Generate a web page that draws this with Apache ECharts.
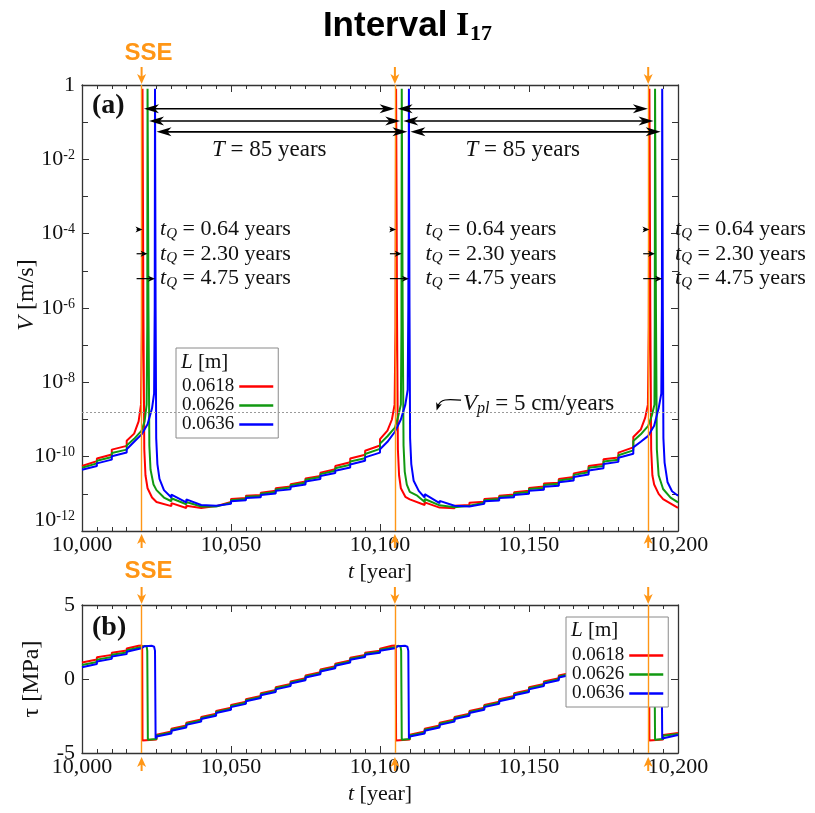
<!DOCTYPE html>
<html lang="en">
<head>
<meta charset="UTF-8">
<title>Interval I17</title>
<script src="https://cdn.jsdelivr.net/npm/echarts@6/dist/echarts.min.js"></script>
<style>
  html, body { margin: 0; background: #fff; }
  #main { width: 815px; height: 813px; }
</style>
</head>
<body>
<div id="main"></div>
<script>
// ---- data ----
var seriesNames = ['0.0618', '0.0626', '0.0636'];
var lineColors = ['#ff0000', '#119911', '#0000ff'];
var sseTimes = [10020, 10105, 10190];
var peakRed = [10020.3, 10105.4, 10190.4];
var peakGreen = [10022.0, 10107.3, 10192.3];
var peakBlue = [10024.5, 10109.7, 10194.7];
var tqLabels = ['0.64', '2.30', '4.75'];
var periodLabel = '85';
var vplLog = -8.8;                       // 5 cm/yr in m/s, log10

// panel (a): log10 of V [m/s] against t [year]
var logVRed = [
  [10000,-10.25],[10005,-10.12],[10005,-10.05],[10010,-9.94],[10010,-9.81],[10015,-9.71],[10015,-9.57],
  [10017.5,-9.38],[10019,-9.05],[10019.8,-8.6],[10020.1,-6.5],[10020.3,-0.1],
  [10020.6,-6],[10020.9,-9.8],[10021.3,-10.5],[10022,-10.85],[10023.5,-11.1],
  [10025,-11.22],[10025,-11.18],[10030,-11.33],[10030,-11.25],[10035,-11.38],[10035,-11.32],
  [10040,-11.38],[10040,-11.33],[10045,-11.33],[10045,-11.28],[10050,-11.22],[10050,-11.14],
  [10055,-11.11],[10055,-11.05],[10060,-11.03],[10060,-10.97],[10065,-10.92],[10065,-10.85],
  [10070,-10.80],[10070,-10.74],[10075,-10.67],[10075,-10.59],[10080,-10.52],[10080,-10.43],
  [10085,-10.34],[10085,-10.25],[10090,-10.15],[10090,-10.05],[10095,-9.95],[10095,-9.84],
  [10100,-9.70],[10100,-9.53],[10102.5,-9.3],[10104,-9.0],[10104.9,-8.6],[10105.2,-6.5],[10105.4,-0.1],
  [10105.7,-6],[10106,-9.8],[10106.4,-10.5],[10107,-10.85],[10108.5,-11.08],
  [10110,-11.15],[10110,-11.10],[10115,-11.30],[10115,-11.23],[10120,-11.37],[10120,-11.32],
  [10125,-11.39],[10125,-11.32],[10130,-11.30],[10130,-11.24],[10135,-11.21],[10135,-11.14],
  [10140,-11.11],[10140,-11.05],[10145,-11.02],[10145,-10.96],[10150,-10.92],[10150,-10.84],
  [10155,-10.80],[10155,-10.72],[10160,-10.70],[10160,-10.60],[10165,-10.55],[10165,-10.45],
  [10170,-10.37],[10170,-10.25],[10175,-10.20],[10175,-10.07],[10180,-10.02],[10180,-9.89],
  [10185,-9.75],[10185,-9.47],[10187.5,-9.27],[10189,-8.95],[10189.9,-8.6],[10190.2,-6.5],[10190.4,-0.1],
  [10190.7,-6],[10191,-9.8],[10191.4,-10.5],[10192,-10.75],[10193.5,-11.0],
  [10195,-11.14],[10195,-11.10],[10200,-11.38]
];
var logVGreen = [
  [10000,-10.30],[10005,-10.18],[10005,-10.11],[10010,-10.01],[10010,-9.90],[10015,-9.81],[10015,-9.70],
  [10017.5,-9.52],[10020,-9.30],[10021,-9.05],[10021.7,-8.6],[10021.9,-6.5],[10022.0,-0.1],
  [10022.3,-6],[10022.6,-9.7],[10023,-10.35],[10024,-10.75],[10025,-10.9],[10027.5,-11.1],
  [10030,-11.2],[10030,-11.12],[10035,-11.28],[10035,-11.22],[10040,-11.34],[10040,-11.30],
  [10045,-11.34],[10045,-11.30],[10050,-11.24],[10050,-11.17],[10055,-11.14],[10055,-11.08],
  [10060,-11.06],[10060,-11.00],[10065,-10.95],[10065,-10.88],[10070,-10.83],[10070,-10.77],
  [10075,-10.70],[10075,-10.62],[10080,-10.55],[10080,-10.47],[10085,-10.38],[10085,-10.31],
  [10090,-10.22],[10090,-10.13],[10095,-10.04],[10095,-9.93],[10100,-9.79],[10100,-9.65],
  [10102.5,-9.45],[10105,-9.22],[10106,-8.95],[10107,-8.6],[10107.2,-6.5],[10107.3,-0.1],
  [10107.6,-6],[10107.9,-9.7],[10108.3,-10.4],[10109,-10.75],[10110,-10.95],[10110,-10.90],
  [10112.5,-11.05],[10115,-11.22],[10115,-11.14],[10120,-11.31],[10120,-11.26],
  [10125,-11.36],[10125,-11.31],[10130,-11.32],[10130,-11.27],[10135,-11.24],[10135,-11.17],
  [10140,-11.14],[10140,-11.08],[10145,-11.05],[10145,-10.99],[10150,-10.95],[10150,-10.87],
  [10155,-10.84],[10155,-10.76],[10160,-10.73],[10160,-10.64],[10165,-10.59],[10165,-10.49],
  [10170,-10.42],[10170,-10.30],[10175,-10.25],[10175,-10.13],[10180,-10.08],[10180,-9.96],
  [10185,-9.83],[10185,-9.58],[10187.5,-9.4],[10190,-9.17],[10191.2,-8.9],[10192.1,-8.6],[10192.2,-6.5],[10192.3,-0.1],
  [10192.6,-6],[10192.9,-9.8],[10193.5,-10.5],[10195,-10.87],[10197.5,-11.1],[10200,-11.23]
];
var logVBlue = [
  [10000,-10.35],[10005,-10.25],[10005,-10.18],[10010,-10.08],[10010,-9.99],[10015,-9.89],[10015,-9.80],
  [10017.5,-9.6],[10020,-9.40],[10022,-9.13],[10023.5,-8.7],[10024.2,-8.3],[10024.4,-6],[10024.5,-0.1],
  [10024.7,-6],[10024.9,-9.5],[10025.3,-10.2],[10026,-10.6],[10027.5,-10.9],
  [10030,-11.1],[10030,-11.02],[10035,-11.23],[10035,-11.15],[10040,-11.30],[10040,-11.25],
  [10045,-11.32],[10045,-11.28],[10050,-11.27],[10050,-11.20],[10055,-11.17],[10055,-11.11],
  [10060,-11.09],[10060,-11.03],[10065,-10.99],[10065,-10.92],[10070,-10.88],[10070,-10.81],
  [10075,-10.75],[10075,-10.67],[10080,-10.60],[10080,-10.52],[10085,-10.44],[10085,-10.38],
  [10090,-10.29],[10090,-10.21],[10095,-10.11],[10095,-10.02],[10100,-9.89],[10100,-9.80],
  [10102.5,-9.6],[10105,-9.33],[10107,-9.0],[10108.5,-8.6],[10109.3,-8.2],[10109.5,-6],[10109.7,-0.1],
  [10109.9,-6],[10110.1,-9.5],[10110.5,-10.2],[10111.3,-10.65],[10113,-10.92],
  [10115,-11.10],[10115,-11.01],[10120,-11.25],[10120,-11.19],[10125,-11.32],[10125,-11.28],
  [10130,-11.34],[10130,-11.29],[10135,-11.27],[10135,-11.20],[10140,-11.18],[10140,-11.11],
  [10145,-11.09],[10145,-11.03],[10150,-11.00],[10150,-10.92],[10155,-10.89],[10155,-10.81],
  [10160,-10.78],[10160,-10.69],[10165,-10.64],[10165,-10.55],[10170,-10.48],[10170,-10.37],
  [10175,-10.31],[10175,-10.20],[10180,-10.14],[10180,-10.03],[10185,-9.92],[10185,-9.75],
  [10187.5,-9.6],[10190,-9.44],[10192,-9.17],[10193.5,-8.7],[10194.4,-8.3],[10194.6,-6],[10194.7,-0.1],
  [10194.9,-6],[10195.1,-9.5],[10195.5,-10.16],[10196.5,-10.69],[10198,-10.93],[10200,-11.05]
];

// panel (b): shear stress tau [MPa]
var tauRed = [
  [10000,1.12],[10005,1.32],[10005,1.47],[10010,1.63],[10010,1.78],[10015,1.92],[10015,2.06],
  [10019,2.24],[10020.1,2.27],[10020.2,2.0],[10020.3,-4.15],[10025,-4.08],[10025,-3.76],
  [10030,-3.54],[10030,-3.36],[10035,-3.14],[10035,-2.96],[10040,-2.74],[10040,-2.56],
  [10045,-2.34],[10045,-2.16],[10050,-1.94],[10050,-1.76],[10055,-1.54],[10055,-1.36],
  [10060,-1.14],[10060,-0.96],[10065,-0.74],[10065,-0.56],[10070,-0.34],[10070,-0.16],
  [10075,0.06],[10075,0.24],[10080,0.46],[10080,0.64],[10085,0.86],[10085,1.04],
  [10090,1.26],[10090,1.44],[10095,1.62],[10095,1.78],[10100,1.91],[10100,2.05],
  [10104,2.24],[10105.2,2.27],[10105.3,2.0],[10105.4,-4.15],[10110,-4.08],[10110,-3.76],
  [10115,-3.54],[10115,-3.36],[10120,-3.14],[10120,-2.96],[10125,-2.74],[10125,-2.56],
  [10130,-2.34],[10130,-2.16],[10135,-1.94],[10135,-1.76],[10140,-1.54],[10140,-1.36],
  [10145,-1.14],[10145,-0.96],[10150,-0.74],[10150,-0.56],[10155,-0.34],[10155,-0.16],
  [10160,0.06],[10160,0.24],[10165,0.46],[10165,0.64],[10170,0.86],[10170,1.04],
  [10175,1.26],[10175,1.44],[10180,1.62],[10180,1.78],[10185,1.91],[10185,2.05],
  [10189,2.24],[10190.2,2.27],[10190.3,2.0],[10190.4,-4.15],[10195,-4.08],[10195,-3.78],[10200,-3.64]
];
var tauGreen = [
  [10000,0.95],[10005,1.15],[10005,1.31],[10010,1.48],[10010,1.64],[10015,1.79],[10015,1.95],
  [10020,2.16],[10021,2.24],[10021.7,2.2],[10021.9,1.9],[10022.1,-4.10],[10025,-4.05],[10025,-3.82],
  [10030,-3.61],[10030,-3.43],[10035,-3.21],[10035,-3.03],[10040,-2.81],[10040,-2.63],
  [10045,-2.41],[10045,-2.23],[10050,-2.01],[10050,-1.83],[10055,-1.61],[10055,-1.43],
  [10060,-1.21],[10060,-1.03],[10065,-0.81],[10065,-0.63],[10070,-0.41],[10070,-0.23],
  [10075,-0.01],[10075,0.17],[10080,0.39],[10080,0.57],[10085,0.79],[10085,0.97],
  [10090,1.19],[10090,1.37],[10095,1.55],[10095,1.71],[10100,1.84],[10100,1.98],
  [10105,2.15],[10106,2.24],[10106.9,2.2],[10107.1,1.9],[10107.3,-4.10],[10110,-4.05],[10110,-3.82],
  [10115,-3.61],[10115,-3.43],[10120,-3.21],[10120,-3.03],[10125,-2.81],[10125,-2.63],
  [10130,-2.41],[10130,-2.23],[10135,-2.01],[10135,-1.83],[10140,-1.61],[10140,-1.43],
  [10145,-1.21],[10145,-1.03],[10150,-0.81],[10150,-0.63],[10155,-0.41],[10155,-0.23],
  [10160,-0.01],[10160,0.17],[10165,0.39],[10165,0.57],[10170,0.79],[10170,0.97],
  [10175,1.19],[10175,1.37],[10180,1.55],[10180,1.71],[10185,1.84],[10185,1.98],
  [10190,2.15],[10191,2.24],[10191.9,2.2],[10192.1,1.9],[10192.3,-4.10],[10195,-4.05],[10195,-3.84],[10200,-3.72]
];
var tauBlue = [
  [10000,0.80],[10005,1.02],[10005,1.18],[10010,1.36],[10010,1.52],[10015,1.68],[10015,1.84],
  [10020,2.08],[10021,2.22],[10023.5,2.24],[10024.2,2.18],[10024.5,1.9],[10024.7,-4.02],[10025,-4.00],[10025,-3.88],
  [10030,-3.68],[10030,-3.50],[10035,-3.28],[10035,-3.10],[10040,-2.88],[10040,-2.70],
  [10045,-2.48],[10045,-2.30],[10050,-2.08],[10050,-1.90],[10055,-1.68],[10055,-1.50],
  [10060,-1.28],[10060,-1.10],[10065,-0.88],[10065,-0.70],[10070,-0.48],[10070,-0.30],
  [10075,-0.08],[10075,0.10],[10080,0.32],[10080,0.50],[10085,0.72],[10085,0.90],
  [10090,1.12],[10090,1.30],[10095,1.48],[10095,1.64],[10100,1.77],[10100,1.91],
  [10105,2.08],[10106,2.22],[10108.5,2.24],[10109.2,2.18],[10109.5,1.9],[10109.7,-4.02],[10110,-4.00],[10110,-3.88],
  [10115,-3.68],[10115,-3.50],[10120,-3.28],[10120,-3.10],[10125,-2.88],[10125,-2.70],
  [10130,-2.48],[10130,-2.30],[10135,-2.08],[10135,-1.90],[10140,-1.68],[10140,-1.50],
  [10145,-1.28],[10145,-1.10],[10150,-0.88],[10150,-0.70],[10155,-0.48],[10155,-0.30],
  [10160,-0.08],[10160,0.10],[10165,0.32],[10165,0.50],[10170,0.72],[10170,0.90],
  [10175,1.12],[10175,1.30],[10180,1.48],[10180,1.64],[10185,1.77],[10185,1.91],
  [10190,2.08],[10191,2.22],[10193.5,2.24],[10194.2,2.18],[10194.5,1.9],[10194.7,-4.02],[10195,-4.00],[10195,-3.90],[10200,-3.78]
];

// ---- styling ----
var SERIF = '"Liberation Serif", "DejaVu Serif", serif';
var SANS = '"Liberation Sans", Arial, sans-serif';
var ORANGE = '#ff9616';
var AXIS = '#333';

var chart = echarts.init(document.getElementById('main'), null, { renderer: 'canvas' });

function xAxisCfg(grid, pos, showLabel) {
  return {
    type: 'value', gridIndex: grid, position: pos,
    min: 10000, max: 10200, interval: 50,
    axisLine: { show: true, onZero: false, lineStyle: { color: AXIS, width: 1.3 } },
    axisTick: { show: true, inside: true, length: 7, lineStyle: { color: AXIS } },
    minorTick: { show: true, splitNumber: 10, length: 4, lineStyle: { color: AXIS } },
    splitLine: { show: false },
    axisLabel: {
      show: showLabel, margin: 3, color: '#111', fontFamily: SERIF, fontSize: 22,
      formatter: function (v) { return String(v).replace(/(\d)(\d{3})$/, '$1,$2'); }
    },
    name: showLabel ? '{i|t} [year]' : '',
    nameLocation: 'middle', nameGap: 30, nameMoveOverlap: false,
    nameTextStyle: { color: '#111', fontFamily: SERIF, fontSize: 22,
      rich: { i: { fontStyle: 'italic', fontFamily: SERIF, fontSize: 22 } } }
  };
}

function lineSeries(name, data, color, xi, yi, extra) {
  var s = {
    name: name, type: 'line', data: data, xAxisIndex: xi, yAxisIndex: yi,
    showSymbol: false, symbol: 'none', animation: false, clip: true,
    lineStyle: { color: color, width: 2 }, itemStyle: { color: color }
  };
  if (extra) { for (var k in extra) s[k] = extra[k]; }
  return s;
}

var orangeLines = sseTimes.map(function (t) {
  return { xAxis: t, lineStyle: { color: ORANGE, width: 1.4, type: 'solid' } };
});

function legendCfg(left, top) {
  return {
    left: left, top: top, orient: 'vertical', align: 'right',
    icon: 'rect', itemWidth: 34, itemHeight: 2.5, itemGap: 0,
    padding: [29, 5, 4, 6],
    backgroundColor: '#fff', borderColor: '#8a8a8a', borderWidth: 1,
    textStyle: { fontFamily: SERIF, fontSize: 19, color: '#111', lineHeight: 17.5 },
    data: seriesNames
  };
}

var option = {
  backgroundColor: '#fff',
  animation: false,
  title: {
    text: '{a|Interval}{b| I}{c|17}',
    left: 'center', top: 2,
    textStyle: {
      rich: {
        a: { fontFamily: SANS, fontWeight: 'bold', fontSize: 35, color: '#000' },
        b: { fontFamily: SERIF, fontWeight: 'bold', fontSize: 34, color: '#000' },
        c: { fontFamily: SERIF, fontWeight: 'bold', fontSize: 22, color: '#000', padding: [16, 0, 0, 1] }
      }
    }
  },
  legend: [legendCfg(176, 348), legendCfg(566, 617)],
  grid: [
    { left: 82, top: 85, width: 596, height: 446, outerBoundsMode: 'none', containLabel: false },
    { left: 82, top: 605, width: 596, height: 148, outerBoundsMode: 'none', containLabel: false }
  ],
  xAxis: [
    xAxisCfg(0, 'bottom', true), xAxisCfg(0, 'top', false),
    xAxisCfg(1, 'bottom', true), xAxisCfg(1, 'top', false)
  ],
  yAxis: [
    {
      type: 'value', gridIndex: 0, position: 'left', min: -12, max: 0, interval: 2,
      axisLine: { show: true, lineStyle: { color: AXIS, width: 1.3 } },
      axisTick: { show: true, inside: true, length: 7, lineStyle: { color: AXIS } },
      minorTick: { show: true, splitNumber: 2, length: 6, lineStyle: { color: AXIS } },
      splitLine: { show: false },
      axisLabel: {
        margin: 7, color: '#111', verticalAlignMinLabel: 'bottom',
        formatter: function (v) { return v === 0 ? '{n|1}' : '{n|10}{s|' + v + '}'; },
        rich: {
          n: { fontFamily: SERIF, fontSize: 22, color: '#111' },
          s: { fontFamily: SERIF, fontSize: 14, color: '#111', padding: [0, 0, 8, 0] }
        }
      },
      name: '{i|V} [m/s]', nameLocation: 'middle', nameRotate: 90, nameGap: 43, nameMoveOverlap: false,
      nameTextStyle: { color: '#111', fontFamily: SERIF, fontSize: 24, padding: [0, 0, 0, 26],
        rich: { i: { fontStyle: 'italic', fontFamily: SERIF, fontSize: 24 } } }
    },
    {
      type: 'value', gridIndex: 0, position: 'right', min: -12, max: 0, interval: 2,
      axisLine: { show: true, lineStyle: { color: AXIS, width: 1.3 } },
      axisTick: { show: true, inside: true, length: 7, lineStyle: { color: AXIS } },
      minorTick: { show: true, splitNumber: 2, length: 6, lineStyle: { color: AXIS } },
      splitLine: { show: false }, axisLabel: { show: false }
    },
    {
      type: 'value', gridIndex: 1, position: 'left', min: -5, max: 5, interval: 5,
      axisLine: { show: true, onZero: false, lineStyle: { color: AXIS, width: 1.3 } },
      axisTick: { show: true, inside: true, length: 7, lineStyle: { color: AXIS } },
      splitLine: { show: false },
      axisLabel: { margin: 7, color: '#111', fontFamily: SERIF, fontSize: 22 },
      name: 'τ [MPa]', nameLocation: 'middle', nameRotate: 90, nameGap: 38, nameMoveOverlap: false,
      nameTextStyle: { color: '#111', fontFamily: SERIF, fontSize: 24, padding: [0, 0, 0, 0] }
    },
    {
      type: 'value', gridIndex: 1, position: 'right', min: -5, max: 5, interval: 5,
      axisLine: { show: true, onZero: false, lineStyle: { color: AXIS, width: 1.3 } },
      axisTick: { show: true, inside: true, length: 7, lineStyle: { color: AXIS } },
      splitLine: { show: false }, axisLabel: { show: false }
    }
  ],
  series: [
    lineSeries(seriesNames[0], logVRed, lineColors[0], 0, 0, {
      markLine: {
        silent: true, symbol: ['none', 'none'], label: { show: false }, animation: false,
        data: orangeLines.concat([{ yAxis: vplLog, lineStyle: { color: '#9a9a9a', width: 1, type: [2, 2] } }])
      }
    }),
    lineSeries(seriesNames[1], logVGreen, lineColors[1], 0, 0),
    lineSeries(seriesNames[2], logVBlue, lineColors[2], 0, 0),
    lineSeries(seriesNames[0], tauRed, lineColors[0], 2, 2, {
      markLine: {
        silent: true, symbol: ['none', 'none'], label: { show: false }, animation: false,
        data: orangeLines
      }
    }),
    lineSeries(seriesNames[1], tauGreen, lineColors[1], 2, 2),
    lineSeries(seriesNames[2], tauBlue, lineColors[2], 2, 2)
  ]
};
chart.setOption(option);

// ---- annotations placed through the axes ----
var g = [];
function P(panel, t, v) {
  return chart.convertToPixel({ xAxisIndex: panel * 2, yAxisIndex: panel * 2 }, [t, v]);
}
function seg(x1, y1, x2, y2, color, w) {
  g.push({ type: 'line', silent: true, z: 100,
    shape: { x1: x1, y1: y1, x2: x2, y2: y2 }, style: { stroke: color, lineWidth: w } });
}
function head(tx, ty, dx, dy, len, hw, color) {
  var nx = -dy, ny = dx, bx = tx - dx * len, by = ty - dy * len;
  g.push({ type: 'polygon', silent: true, z: 101,
    shape: { points: [[tx, ty], [bx + nx * hw, by + ny * hw],
      [tx - dx * len * 0.72, ty - dy * len * 0.72], [bx - nx * hw, by - ny * hw]] },
    style: { fill: color } });
}
function label(x, y, text, size, align, rich, extra) {
  var st = { text: text, x: 0, y: 0, fontFamily: SERIF, fontSize: size, fill: '#111',
    align: align || 'left', verticalAlign: 'middle', rich: rich || {} };
  if (extra) { for (var k in extra) st[k] = extra[k]; }
  g.push({ type: 'text', x: x, y: y, silent: true, z: 102, style: st });
}
var italic = function (s) { return { fontStyle: 'italic', fontFamily: SERIF, fontSize: s }; };

// panel tags
var a0 = P(0, 10000, 0), b0 = P(1, 10000, 5);
label(a0[0] + 10, a0[1] + 21, '(a)', 28, 'left', null, { fontWeight: 'bold' });
label(b0[0] + 10, b0[1] + 23, '(b)', 28, 'left', null, { fontWeight: 'bold' });

// SSE markers: arrows outside both panels
sseTimes.forEach(function (t, i) {
  var topA = P(0, t, 0), botA = P(0, t, -12), topB = P(1, t, 5), botB = P(1, t, -5);
  var x = topA[0];
  seg(x, topA[1] - 18, x, topA[1] - 6, ORANGE, 2);
  head(x, topA[1] - 1, 0, 1, 10, 4.5, ORANGE);
  seg(x, botA[1] + 17, x, botA[1] + 8, ORANGE, 2);
  head(x, botA[1] + 3, 0, -1, 10, 4.5, ORANGE);
  seg(x, topB[1] - 18, x, topB[1] - 6, ORANGE, 2);
  head(x, topB[1] - 1, 0, 1, 10, 4.5, ORANGE);
  seg(x, botB[1] + 18, x, botB[1] + 9, ORANGE, 2);
  head(x, botB[1] + 4, 0, -1, 10, 4.5, ORANGE);
  if (i === 0) {
    label(x + 7, topA[1] - 32, 'SSE', 24, 'center', null, { fontFamily: SANS, fontWeight: 'bold', fill: ORANGE });
    label(x + 7, topB[1] - 34, 'SSE', 24, 'center', null, { fontFamily: SANS, fontWeight: 'bold', fill: ORANGE });
  }
});

// recurrence interval arrows T
var peaks = [peakRed, peakGreen, peakBlue];
var rowLog = [-0.64, -0.97, -1.26];
peaks.forEach(function (pk, r) {
  for (var c = 0; c < 2; c++) {
    var p1 = P(0, pk[c], rowLog[r]), p2 = P(0, pk[c + 1], rowLog[r]);
    var x1 = p1[0] + 1.5, x2 = p2[0] - 1.5, y = p1[1];
    seg(x1 + 8, y, x2 - 8, y, '#000', 1.6);
    head(x1, y, -1, 0, 15, 4.5, '#000');
    head(x2, y, 1, 0, 15, 4.5, '#000');
  }
});
for (var c = 0; c < 2; c++) {
  var mid = P(0, (peakRed[c] + peakRed[c + 1]) / 2, -1.745);
  label(mid[0], mid[1], '{i|T} = ' + periodLabel + ' years', 23, 'center', { i: italic(23) });
}

// tQ arrows and labels
var tqRowLog = [-3.89, -4.54, -5.21];
var tqTextT = [10026.2, 10115.3, 10199];
for (var k = 0; k < 3; k++) {
  for (var r = 0; r < 3; r++) {
    var o = P(0, sseTimes[k], tqRowLog[r]);
    var pe = P(0, peaks[r][k], tqRowLog[r]);
    seg(o[0] - 5, o[1], pe[0] - 3, o[1], '#000', 1.2);
    head(pe[0], o[1], 1, 0, 7, 3, '#000');
    var tp = P(0, tqTextT[k], tqRowLog[r]);
    label(tp[0], tp[1], '{i|t}{q|Q} = ' + tqLabels[r] + ' years', 22, 'left',
      { i: italic(22), q: { fontStyle: 'italic', fontFamily: SERIF, fontSize: 15, padding: [9, 0, 0, 0] } });
  }
}

// Vpl label with a curved pointer
var vs = P(0, 10127.2, -8.48), ve = P(0, 10119.0, -8.76);
g.push({ type: 'bezierCurve', silent: true, z: 100,
  shape: { x1: vs[0], y1: vs[1], cpx1: vs[0] - 14, cpy1: vs[1] - 1, cpx2: ve[0] + 4, cpy2: ve[1] - 12, x2: ve[0] + 1, y2: ve[1] - 4 },
  style: { stroke: '#000', lineWidth: 1.2, fill: 'none' } });
head(ve[0], ve[1], -0.3, 0.95, 8, 3, '#000');
label(vs[0] + 2, vs[1] + 4, '{i|V}{s|pl} = 5 cm/years', 23, 'left',
  { i: italic(23), s: { fontStyle: 'italic', fontFamily: SERIF, fontSize: 16, padding: [10, 0, 0, 0] } });

// legend titles
label(181, 362, '{i|L} [m]', 21, 'left', { i: italic(21) });
label(571, 630, '{i|L} [m]', 21, 'left', { i: italic(21) });

chart.setOption({ graphic: g });
</script>
</body>
</html>
